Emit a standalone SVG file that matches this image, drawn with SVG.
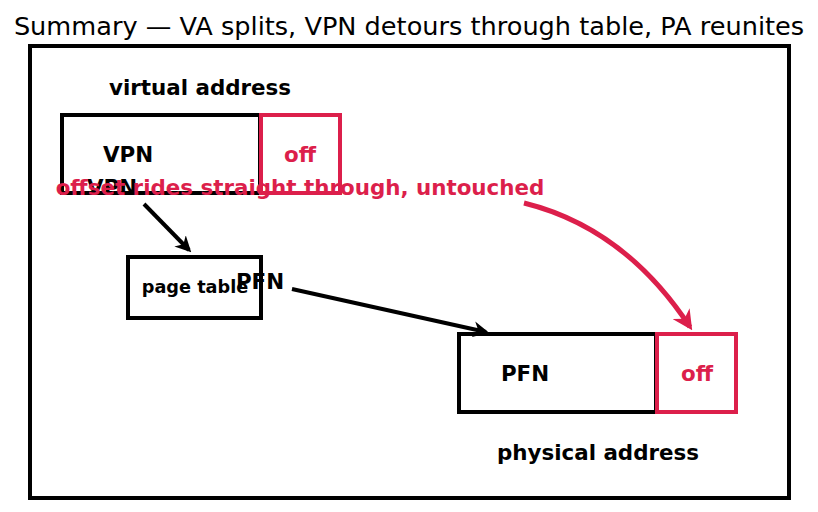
<svg xmlns="http://www.w3.org/2000/svg" width="818" height="512" viewBox="0 0 818 512">
<defs>
<style>
.t{font-family:"DejaVu Sans",sans-serif;font-weight:bold;font-size:21.4px;text-anchor:middle;dominant-baseline:central}
.k{fill:#000}
.r{fill:#dc1f4b}
.bx{fill:none;stroke:#000;stroke-width:4}
.rb{fill:none;stroke:#dc1f4b;stroke-width:4}
</style>
<marker id="ak" viewBox="0 0 10 10" refX="8" refY="5" markerWidth="4" markerHeight="4" orient="auto" markerUnits="strokeWidth"><path d="M0,0 L10,5 L0,10 L3,5 Z" fill="#000"/></marker>
<marker id="ar" viewBox="0 0 10 10" refX="8" refY="5" markerWidth="4" markerHeight="4" orient="auto" markerUnits="strokeWidth"><path d="M0,0 L10,5 L0,10 L3,5 Z" fill="#dc1f4b"/></marker>
</defs>
<rect width="818" height="512" fill="#fff"/>
<text x="409" y="26" style="font-family:'DejaVu Sans',sans-serif;font-size:25.6px;text-anchor:middle;dominant-baseline:central" fill="#000">Summary — VA splits, VPN detours through table, PA reunites</text>
<rect x="30" y="46" width="759" height="452" class="bx"/>
<g id="va">
<text x="200" y="87" class="t k">virtual address</text>
<rect x="62" y="115" width="198" height="78" class="bx"/>
<text x="128" y="154" class="t k">VPN</text>
</g>
<g id="va-off">
<rect x="261" y="115" width="79" height="78" class="rb"/>
<text x="300" y="154" class="t r">off</text>
</g>
<g id="pt">
<rect x="128" y="257" width="133" height="61" class="bx"/>
<text x="195" y="287" class="t k" style="font-size:17.7px">page table</text>
</g>
<g id="pa">
<rect x="459" y="334" width="197" height="78" class="bx"/>
<text x="525" y="373" class="t k">PFN</text>
<text x="598" y="452" class="t k">physical address</text>
</g>
<g id="pa-off">
<rect x="657" y="334" width="79" height="78" class="rb"/>
<text x="697" y="373" class="t r">off</text>
</g>
<g id="connectors">
<line x1="144" y1="204" x2="189" y2="250" stroke="#000" stroke-width="4" marker-end="url(#ak)"/>
<text x="112" y="187" class="t k">VPN</text>
<line x1="292" y1="289" x2="486" y2="332" stroke="#000" stroke-width="4" marker-end="url(#ak)"/>
<text x="260" y="281" class="t k">PFN</text>
<path d="M524,203 Q625,228 690,327" fill="none" stroke="#dc1f4b" stroke-width="5" marker-end="url(#ar)"/>
<text x="300" y="187" class="t r">offset rides straight through, untouched</text>
</g>
</svg>
